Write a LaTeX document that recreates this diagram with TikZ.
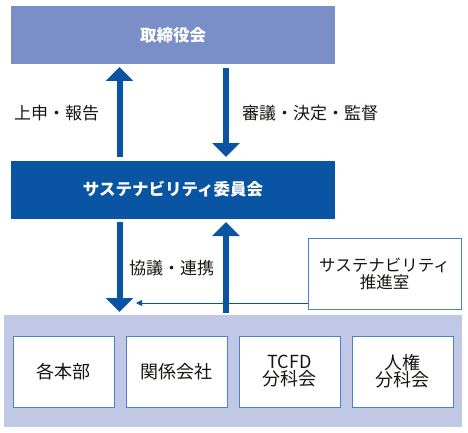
\documentclass[tikz,border=0pt]{standalone}
\usepackage{fontspec}
\setmainfont{Noto Sans CJK JP}
\usetikzlibrary{arrows.meta}
\definecolor{topblue}{HTML}{7A8FC8}
\definecolor{darkblue}{HTML}{0A55A3}
\definecolor{paleblue}{HTML}{C0C8E6}
\definecolor{edgeblue}{HTML}{4A82C8}
\definecolor{txt}{HTML}{1A1412}
\begin{document}
\begin{tikzpicture}[x=1pt,y=-1pt,
  headbox/.style={draw=none,minimum width=324pt,minimum height=58pt,inner sep=0pt,text=white,font=\fontsize{16.5}{19}\selectfont\bfseries},
  unitbox/.style={draw=edgeblue,line width=0.8pt,fill=white,minimum width=101pt,minimum height=71pt,inner sep=0pt,text=txt,align=center,font=\fontsize{18}{20}\selectfont},
  bigarrow/.style={draw=darkblue,line width=6pt,-{Triangle[width=27pt,length=14pt]}},
  lbl/.style={text=txt,font=\fontsize{17}{19}\selectfont,inner sep=0pt},
  thinarrow/.style={draw=darkblue,line width=0.8pt,-{Triangle[width=6pt,length=6pt]}}]
\useasboundingbox (0,0) rectangle (468,433);
\node[headbox,fill=topblue] (board) at (173,35) {取締役会};
\node[headbox,fill=darkblue] (comm) at (173,189.5) {サステナビリティ委員会};
\node[fill=paleblue,minimum width=458pt,minimum height=112pt,inner sep=0pt] (group) at (233,371) {};
\node[unitbox] (u1) at (63.5,371.5) {各本部};
\node[unitbox] (u2) at (176.5,371.5) {関係会社};
\node[unitbox] (u3) at (289.5,371.5) {TCFD\\[-3pt]分科会};
\node[unitbox] (u4) at (402.5,371.5) {人権\\[-3pt]分科会};
\node[draw=edgeblue,line width=0.8pt,fill=white,minimum width=153pt,minimum height=71pt,inner sep=0pt,align=center,text=txt,font=\fontsize{16.5}{19}\selectfont] (promo) at (384.5,273.5) {サステナビリティ\\[-2pt]推進室};
\coordinate (a1s) at (119.5,157);
\coordinate (a1e) at (119.5,67);
\coordinate (a2s) at (226,68);
\coordinate (a2e) at (226,157);
\coordinate (a3s) at (119.5,222);
\coordinate (a3e) at (119.5,312);
\coordinate (a4s) at (226,313);
\coordinate (a4e) at (226,222);
\coordinate (thinend) at (136,303);
\draw[bigarrow] (a1s) -- (a1e);
\draw[bigarrow] (a2s) -- (a2e);
\draw[thinarrow] (promo.west |- thinend) -- (thinend);
\draw[bigarrow] (a3s) -- (a3e);
\draw[bigarrow] (a4s) -- (a4e);
\node[lbl,anchor=west] (l1) at (14,113) {上申・報告};
\node[lbl,anchor=west] (l2) at (242,113) {審議・決定・監督};
\node[lbl,anchor=west] (l3) at (129,268) {協議・連携};
\end{tikzpicture}
\end{document}
